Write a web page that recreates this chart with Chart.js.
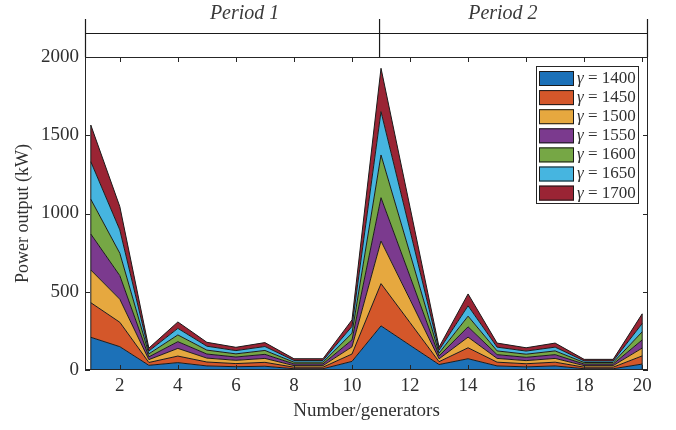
<!DOCTYPE html>
<html>
<head>
<meta charset="utf-8">
<script src="https://cdn.jsdelivr.net/npm/chart.js@4.4.1/dist/chart.umd.min.js"></script>
<style>
  body { margin: 0; background: #fff; }
</style>
</head>
<body>
<canvas id="powerChart" width="676" height="430"></canvas>
<script>
// generators 1..20
const generators = [1, 2, 3, 4, 5, 6, 7, 8, 9, 10, 11, 12, 13, 14, 15, 16, 17, 18, 19, 20];

// power output per gamma (kW)
const gamma1400 = [209, 149, 30, 47, 26, 21, 24, 8, 8, 55, 282, 158, 35, 72, 26, 20, 26, 8, 8, 38];
const gamma1450 = [221, 156, 18, 42, 25, 20, 25, 10, 10, 47, 270, 145, 18, 70, 24, 20, 24, 10, 10, 52];
const gamma1500 = [209, 147, 18, 49, 25, 21, 25, 10, 10, 46, 272, 147, 18, 68, 24, 20, 24, 10, 10, 50];
const gamma1550 = [230, 151, 18, 43, 26, 21, 26, 11, 11, 44, 277, 148, 19, 66, 24, 21, 24, 10, 10, 52];
const gamma1600 = [222, 143, 19, 43, 25, 20, 25, 11, 11, 43, 273, 146, 18, 68, 24, 20, 24, 10, 10, 52];
const gamma1650 = [240, 149, 18, 42, 25, 21, 25, 11, 11, 43, 277, 148, 19, 66, 24, 20, 24, 10, 10, 53];
const gamma1700 = [234, 149, 19, 41, 25, 21, 25, 11, 11, 42, 277, 148, 19, 76, 26, 21, 26, 10, 10, 62];

const gammaLabels = ['1400', '1450', '1500', '1550', '1600', '1650', '1700'];
const seriesValues = [gamma1400, gamma1450, gamma1500, gamma1550, gamma1600, gamma1650, gamma1700];
const colors = ['#1c71b8', '#d4572a', '#e6a83f', '#7b3a8e', '#76a745', '#46b5e0', '#9a2434'];

const xTicks = [2, 4, 6, 8, 10, 12, 14, 16, 18, 20];
const yTicks = [0, 500, 1000, 1500, 2000];
const periods = ['Period 1', 'Period 2'];

const inkColor = '#303030';
Chart.defaults.font.family = '"Liberation Serif", "Times New Roman", serif';
Chart.defaults.color = inkColor;

const datasets = seriesValues.map((vals, i) => ({
    label: 'γ = ' + gammaLabels[i],
    data: generators.map((g, j) => ({ x: g, y: vals[j] })),
    backgroundColor: colors[i],
    borderColor: '#1a1a1a',
    borderWidth: 1,
    pointRadius: 0,
    tension: 0,
    fill: i === 0 ? 'origin' : '-1'
}));

// box, inward ticks, legend and the period bar, MATLAB style
const matlabAxes = {
    id: 'matlabAxes',
    afterDatasetsDraw(chart) {
        const ctx = chart.ctx;
        const xs = chart.scales.x, ys = chart.scales.y;
        // closing edges of the stacked area at both ends
        ctx.save();
        ctx.strokeStyle = '#1a1a1a';
        ctx.lineWidth = 1;
        [0, generators.length - 1].forEach(j => {
            const total = seriesValues.reduce((s, v) => s + v[j], 0);
            const px = xs.getPixelForValue(generators[j]);
            ctx.beginPath();
            ctx.moveTo(px, ys.getPixelForValue(0));
            ctx.lineTo(px, ys.getPixelForValue(total));
            ctx.stroke();
        });
        ctx.restore();
    },
    afterDraw(chart) {
        const ctx = chart.ctx;
        const { left, right, top, bottom } = chart.chartArea;
        const xs = chart.scales.x, ys = chart.scales.y;
        ctx.save();
        ctx.strokeStyle = '#262626';
        ctx.lineWidth = 1;
        ctx.strokeRect(left + 0.5, top + 0.5, right - left - 1, bottom - top - 1);

        ctx.beginPath();
        xTicks.forEach(v => {
            const px = Math.round(xs.getPixelForValue(v)) + 0.5;
            ctx.moveTo(px, bottom); ctx.lineTo(px, bottom - 5);
            ctx.moveTo(px, top); ctx.lineTo(px, top + 5);
        });
        yTicks.forEach(v => {
            const py = Math.round(ys.getPixelForValue(v)) + 0.5;
            ctx.moveTo(left, py); ctx.lineTo(left + 5, py);
            ctx.moveTo(right, py); ctx.lineTo(right - 5, py);
        });
        ctx.stroke();

        // legend
        const lx = right - 112, ly = top + 9, lw = 102, lh = 137;
        ctx.fillStyle = '#fff';
        ctx.fillRect(lx, ly, lw, lh);
        ctx.strokeStyle = '#262626';
        ctx.strokeRect(lx + 0.5, ly + 0.5, lw, lh);
        datasets.forEach((ds, i) => {
            const cy = ly + 12.5 + i * 19.1;
            ctx.fillStyle = ds.backgroundColor;
            ctx.fillRect(lx + 3, cy - 7.5, 35, 15);
            ctx.strokeStyle = '#1a1a1a';
            ctx.strokeRect(lx + 3.5, cy - 7, 34, 14);
            ctx.fillStyle = inkColor;
            ctx.textBaseline = 'middle';
            ctx.textAlign = 'left';
            ctx.font = 'italic 17px "Liberation Serif"';
            ctx.fillText('γ', lx + 41, cy);
            const gw = ctx.measureText('γ').width;
            ctx.font = '17px "Liberation Serif"';
            ctx.fillText(' = ' + gammaLabels[i], lx + 41 + gw, cy);
        });

        // period bar above the axes
        const split = xs.getPixelForValue(10.95);
        ctx.strokeStyle = '#1a1a1a';
        ctx.lineWidth = 1.2;
        ctx.beginPath();
        [left + 0.5, split, right - 0.5].forEach(px => {
            ctx.moveTo(px, 19); ctx.lineTo(px, top);
        });
        ctx.moveTo(left, 33.5); ctx.lineTo(right, 33.5);
        ctx.stroke();
        ctx.fillStyle = '#3a3a3a';
        ctx.font = 'italic 20px "Liberation Serif"';
        ctx.textAlign = 'center';
        ctx.textBaseline = 'middle';
        ctx.fillText(periods[0], xs.getPixelForValue(6.3), 14);
        ctx.fillText(periods[1], xs.getPixelForValue(15.2), 14);
        ctx.restore();
    }
};

new Chart(document.getElementById('powerChart'), {
    type: 'line',
    data: { datasets: datasets },
    options: {
        responsive: false,
        animation: false,
        layout: { padding: { left: 0, top: 57, right: 28, bottom: 0 } },
        plugins: {
            legend: { display: false },
            tooltip: { enabled: false }
        },
        scales: {
            x: {
                type: 'linear',
                min: 0.8,
                max: 20.2,
                grid: { display: false, drawTicks: false },
                border: { display: false },
                afterBuildTicks: (scale) => { scale.ticks = xTicks.map(v => ({ value: v })); },
                afterFit: (scale) => { scale.height = 60; },
                ticks: { font: { size: 19 }, padding: 5, maxRotation: 0, autoSkip: false,
                         callback: (v) => String(v) },
                title: {
                    display: true,
                    text: 'Number/generators',
                    font: { size: 19 },
                    padding: { top: 0, bottom: 8 }
                }
            },
            y: {
                stacked: true,
                min: 0,
                max: 2000,
                grid: { display: false, drawTicks: false },
                border: { display: false },
                afterBuildTicks: (scale) => { scale.ticks = yTicks.map(v => ({ value: v })); },
                afterFit: (scale) => { scale.width = 85; },
                ticks: { font: { size: 19 }, padding: 6, callback: (v) => String(v) },
                title: {
                    display: true,
                    text: 'Power output (kW)',
                    font: { size: 18 },
                    padding: { top: 12, bottom: 0 }
                }
            }
        }
    },
    plugins: [matlabAxes]
});
</script>
</body>
</html>
